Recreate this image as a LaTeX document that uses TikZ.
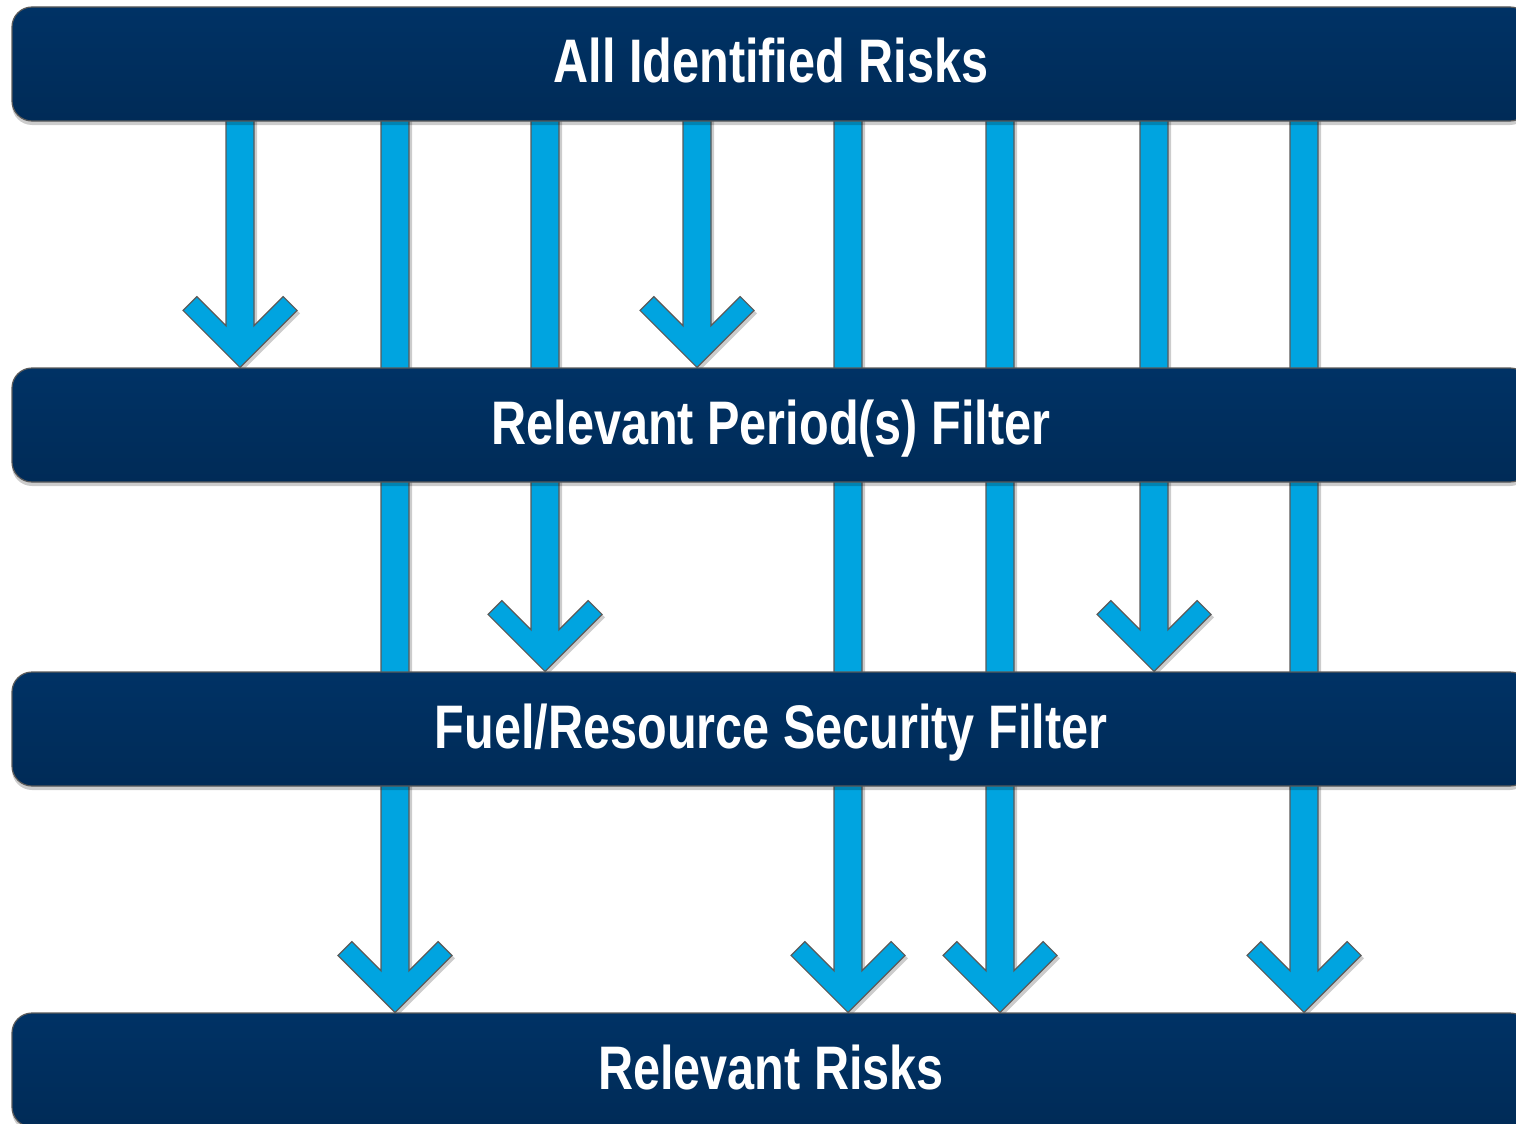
\documentclass[tikz,border=0pt]{standalone}
\usepackage{fontspec}
\usepackage{tikz}
\usetikzlibrary{calc, backgrounds, shadows}
\newfontfamily\barfont[FakeStretch=0.79]{Liberation Sans}
\definecolor{risknavy}{HTML}{003265}
\definecolor{risknavydark}{HTML}{002B57}
\definecolor{riskblue}{HTML}{00A4E0}
\definecolor{riskedge}{HTML}{5A5A5A}

% chevron arrow dropping from bar #2 to bar #3 along column #1
\newcommand{\riskflow}[3]{%
  \draw[flow] let \p1=(#1 |- #2.south), \p2=(#1 |- #3.north) in
    (\x1-14pt,\y1+6pt) -- (\x1-14pt,\y2+41.6pt) -- (\x1-43.2pt,\y2+70.8pt)
    -- (\x1-57pt,\y2+57pt) -- (\x1,\y2) -- (\x1+57pt,\y2+57pt)
    -- (\x1+43.2pt,\y2+70.8pt) -- (\x1+14pt,\y2+41.6pt) -- (\x1+14pt,\y1+6pt) -- cycle;}

\begin{document}
\begin{tikzpicture}[x=1pt, y=-1pt,
    bar/.style={draw=riskedge, line width=1.2pt, rounded corners=20pt,
                top color=risknavy, bottom color=risknavydark,
                minimum width=1518pt, minimum height=114pt,
                text=white, text height=44pt, text depth=6pt,
                font=\barfont\bfseries\fontsize{61.5}{70}\selectfont,
                drop shadow={shadow xshift=0pt, shadow yshift=-4pt, opacity=0.2, fill=black}},
    flow/.style={draw=riskedge, line width=1.2pt, fill=riskblue, line join=miter,
                 drop shadow={shadow xshift=3pt, shadow yshift=-3pt, opacity=0.2, fill=black}},
]
    \useasboundingbox (0,0) rectangle (1516,1124);
    \clip (0,0) rectangle (1516,1124);

    % filter stages
    \node[bar] (all) at (771,64) {All Identified Risks};
    \node[bar] (period) at (771,425) {Relevant Period(s) Filter};
    \node[bar] (fuel) at (771,729) {Fuel/Resource Security Filter};
    \node[bar] (relevant) at (771,1070) {Relevant Risks};

    % columns
    \coordinate (c1) at (240,0);
    \coordinate (c2) at (395,0);
    \coordinate (c3) at (545,0);
    \coordinate (c4) at (697,0);
    \coordinate (c5) at (848,0);
    \coordinate (c6) at (1000,0);
    \coordinate (c7) at (1154,0);
    \coordinate (c8) at (1304,0);

    % risks, each stopping at the filter that catches it
    \begin{scope}[on background layer]
        \riskflow{c1}{all}{period}
        \riskflow{c4}{all}{period}
        \riskflow{c3}{all}{fuel}
        \riskflow{c7}{all}{fuel}
        \riskflow{c2}{all}{relevant}
        \riskflow{c5}{all}{relevant}
        \riskflow{c6}{all}{relevant}
        \riskflow{c8}{all}{relevant}
    \end{scope}
\end{tikzpicture}
\end{document}
